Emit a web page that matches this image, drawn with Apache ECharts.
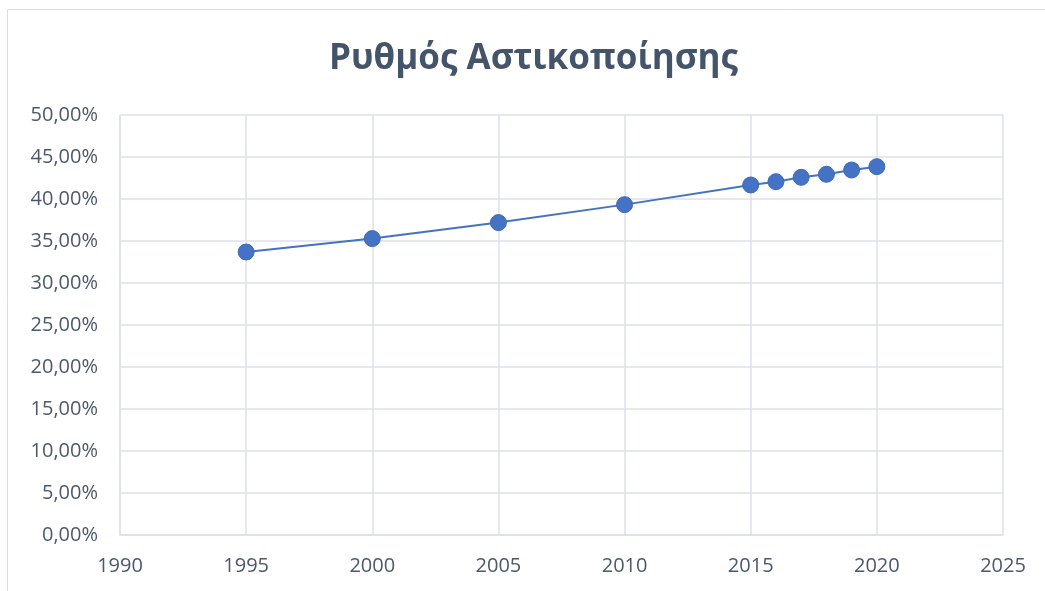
<!DOCTYPE html>
<html>
<head>
<meta charset="utf-8">
<script src="https://cdn.jsdelivr.net/npm/echarts@6/dist/echarts.min.js"></script>
<style>
html,body{margin:0;padding:0;background:#fff;}
#c{width:1045px;height:591px;}
</style>
</head>
<body>
<div id="c"></div>
<script>
const titleText = "Ρυθμός Αστικοποίησης";
const years = [1995, 2000, 2005, 2010, 2015, 2016, 2017, 2018, 2019, 2020];
const rates = [33.69, 35.29, 37.19, 39.33, 41.67, 42.06, 42.58, 42.94, 43.45, 43.85];
const xTicks = [1990, 1995, 2000, 2005, 2010, 2015, 2020, 2025];
const yTicks = [0, 5, 10, 15, 20, 25, 30, 35, 40, 45, 50];

const chart = echarts.init(document.getElementById('c'), null, {renderer: 'canvas'});
const labelColor = '#4d596b';
const gridColor = '#dde1e8';
const font = '"Open Sans", "Noto Sans", sans-serif';

chart.setOption({
  backgroundColor: '#ffffff',
  animation: false,
  graphic: [{
    type: 'rect',
    shape: {x: 7.5, y: 9.5, width: 1045, height: 600},
    style: {fill: 'none', stroke: '#d9dde3', lineWidth: 1},
    silent: true
  }],
  title: {
    text: titleText,
    left: 324,
    top: 37,
    textStyle: {fontFamily: font, fontSize: 35, fontWeight: 'bold', color: '#44546a'}
  },
  grid: {left: 120, right: 42, top: 115, bottom: 56, containLabel: false},
  xAxis: {
    type: 'value',
    min: xTicks[0],
    max: xTicks[xTicks.length - 1],
    interval: 5,
    axisLine: {show: true, lineStyle: {color: gridColor, width: 1.5}},
    axisTick: {show: false},
    splitLine: {show: true, lineStyle: {color: gridColor, width: 1.5}},
    axisLabel: {
      color: labelColor, fontFamily: font, fontSize: 20, margin: 21,
      formatter: v => String(v)
    }
  },
  yAxis: {
    type: 'value',
    min: yTicks[0],
    max: yTicks[yTicks.length - 1],
    interval: 5,
    axisLine: {show: true, lineStyle: {color: gridColor, width: 1.5}},
    axisTick: {show: false},
    splitLine: {show: true, lineStyle: {color: gridColor, width: 1.5}},
    axisLabel: {
      color: labelColor, fontFamily: font, fontSize: 20, margin: 22,
      formatter: v => v.toFixed(2).replace('.', ',') + '%'
    }
  },
  series: [{
    type: 'line',
    data: years.map((y, i) => [y, rates[i]]),
    symbol: 'circle',
    symbolSize: 16,
    lineStyle: {color: '#4472c4', width: 2},
    itemStyle: {color: '#4472c4', borderColor: '#3f69b8', borderWidth: 1},
    z: 3
  }]
});
</script>
</body>
</html>
